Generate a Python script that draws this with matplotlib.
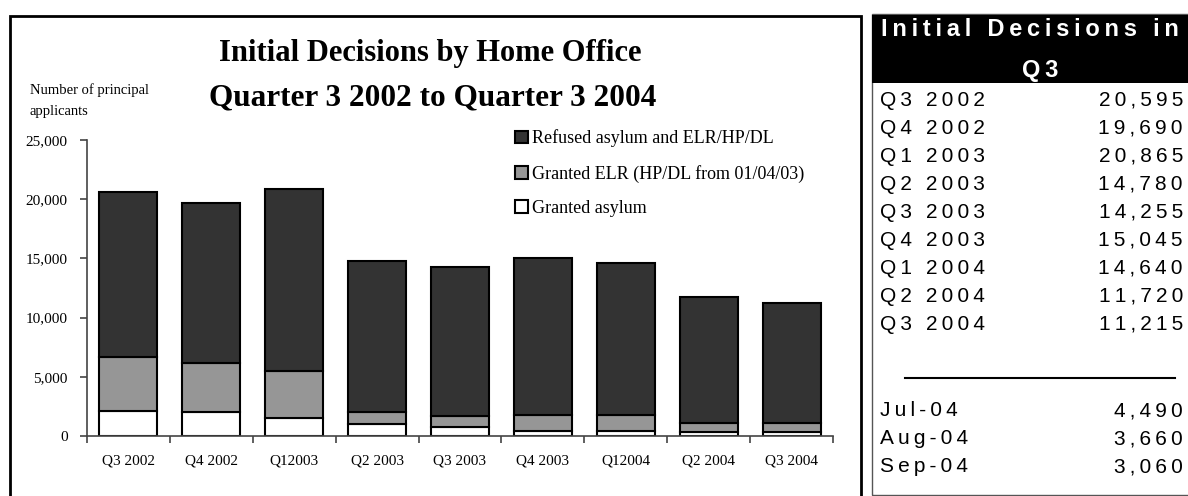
import matplotlib
matplotlib.use('Agg')
import numpy as np
from matplotlib import pyplot as plt
from matplotlib.patches import Rectangle
from matplotlib.ticker import FuncFormatter

quarters = ['Q3 2002', 'Q4 2002', 'Q12003', 'Q2 2003', 'Q3 2003',
            'Q4 2003', 'Q12004', 'Q2 2004', 'Q3 2004']
asylum = [2100, 2000, 1480, 1000, 780, 440, 440, 360, 360]
elr = [4600, 4170, 3990, 1000, 920, 1340, 1340, 750, 750]
refused = [13895, 13520, 15395, 12780, 12555, 13265, 12860, 10610, 10105]

table_labels = ['Q3 2002', 'Q4 2002', 'Q1 2003', 'Q2 2003', 'Q3 2003',
                'Q4 2003', 'Q1 2004', 'Q2 2004', 'Q3 2004']
table_totals = ['20,595', '19,690', '20,865', '14,780', '14,255',
                '15,045', '14,640', '11,720', '11,215']
month_labels = ['Jul-04', 'Aug-04', 'Sep-04']
month_totals = ['4,490', '3,660', '3,060']

W, H = 1188, 496
fig = plt.figure(figsize=(W / 100, H / 100), dpi=100)

def fx(px):
    return px / W

def fy(py):
    return 1 - py / H

def spaced(s):
    # the table in the original is drawn with wide letter spacing
    return '\u2009'.join(s)

serif = 'Liberation Serif'
sans = ['Liberation Sans', 'DejaVu Sans']

# chart panel border
fig.add_artist(Rectangle((fx(10), fy(520)), fx(851), (520 - 16) / H,
                         transform=fig.transFigure, fill=False,
                         edgecolor='black', linewidth=2))

ax = fig.add_axes([fx(87), fy(436), fx(746), (436 - 140) / H])
x = np.arange(len(quarters))
bw = 0.7
ax.bar(x, asylum, bw, color='white', edgecolor='black', linewidth=1.5,
       label='Granted asylum')
ax.bar(x, elr, bw, bottom=asylum, color='#969696', edgecolor='black',
       linewidth=1.5, label='Granted ELR (HP/DL from 01/04/03)')
ax.bar(x, refused, bw, bottom=np.array(asylum) + np.array(elr),
       color='#333333', edgecolor='black', linewidth=1.5,
       label='Refused asylum and ELR/HP/DL')

ax.set_xlim(-0.5, len(quarters) - 0.5)
ax.set_ylim(0, 25000)
ax.set_yticks(range(0, 25001, 5000))
ax.yaxis.set_major_formatter(FuncFormatter(lambda v, p: '{:,}'.format(int(v))))
ax.set_xticks(x)
ax.set_xticklabels(quarters, fontfamily=serif, fontsize=11)
ax.set_xticks(np.arange(-0.5, len(quarters), 1), minor=True)
ax.tick_params(axis='x', which='major', length=0, pad=13)
ax.tick_params(axis='x', which='minor', length=5, width=1.2, color='#444444',
               direction='out')
ax.tick_params(axis='y', length=5, width=1.2, color='#444444', direction='out',
               pad=9, labelsize=11)
for lab in ax.get_yticklabels():
    lab.set_fontfamily(serif)
for s in ['top', 'right']:
    ax.spines[s].set_visible(False)
for s in ['left', 'bottom']:
    ax.spines[s].set_linewidth(1.2)
    ax.spines[s].set_color('#444444')

handles, labels = ax.get_legend_handles_labels()
ax.legend(handles[::-1], labels[::-1], loc='upper left',
          bbox_to_anchor=(fx(499 - 87) / fx(746), 1.09), frameon=False,
          prop={'family': serif, 'size': 13}, handlelength=0.7,
          handleheight=0.7, handletextpad=0.25, labelspacing=0.95)

fig.text(fx(430), fy(53), 'Initial Decisions by Home Office', ha='center',
         va='center', fontfamily=serif, fontsize=22, fontweight='bold')
fig.text(fx(433), fy(98), 'Quarter 3 2002 to Quarter 3 2004', ha='center',
         va='center', fontfamily=serif, fontsize=22.5, fontweight='bold')
fig.text(fx(30), fy(90), 'Number of principal', ha='left', va='center',
         fontfamily=serif, fontsize=10.5)
fig.text(fx(30), fy(111), 'applicants', ha='left', va='center',
         fontfamily=serif, fontsize=10.5)

# table panel
fig.add_artist(Rectangle((fx(872), fy(495)), fx(340), (495 - 14) / H,
                         transform=fig.transFigure, fill=False,
                         edgecolor='#555555', linewidth=1))
fig.add_artist(Rectangle((fx(872), fy(83)), fx(340), (83 - 15) / H,
                         transform=fig.transFigure, facecolor='black',
                         edgecolor='none'))
fig.text(fx(1030), fy(30), spaced('Initial Decisions in'), ha='center',
         va='center', color='white', fontfamily=sans, fontsize=17,
         fontweight='bold')
fig.text(fx(1040), fy(71), spaced('Q3'), ha='center', va='center',
         color='white', fontfamily=sans, fontsize=17, fontweight='bold')

for i, (lab, val) in enumerate(zip(table_labels, table_totals)):
    yy = 100 + i * 28
    fig.text(fx(880), fy(yy), spaced(lab), ha='left', va='center',
             fontfamily=sans, fontsize=15)
    fig.text(fx(1183), fy(yy), spaced(val), ha='right', va='center',
             fontfamily=sans, fontsize=15)

fig.add_artist(plt.Line2D([fx(905), fx(1175)], [fy(378), fy(378)],
                          transform=fig.transFigure, color='black', linewidth=1.5))

for i, (lab, val) in enumerate(zip(month_labels, month_totals)):
    yy = 411 + i * 28
    fig.text(fx(880), fy(yy), spaced(lab), ha='left', va='center',
             fontfamily=sans, fontsize=15)
    fig.text(fx(1183), fy(yy), spaced(val), ha='right', va='center',
             fontfamily=sans, fontsize=15)

fig.savefig('out.png', dpi=100)
